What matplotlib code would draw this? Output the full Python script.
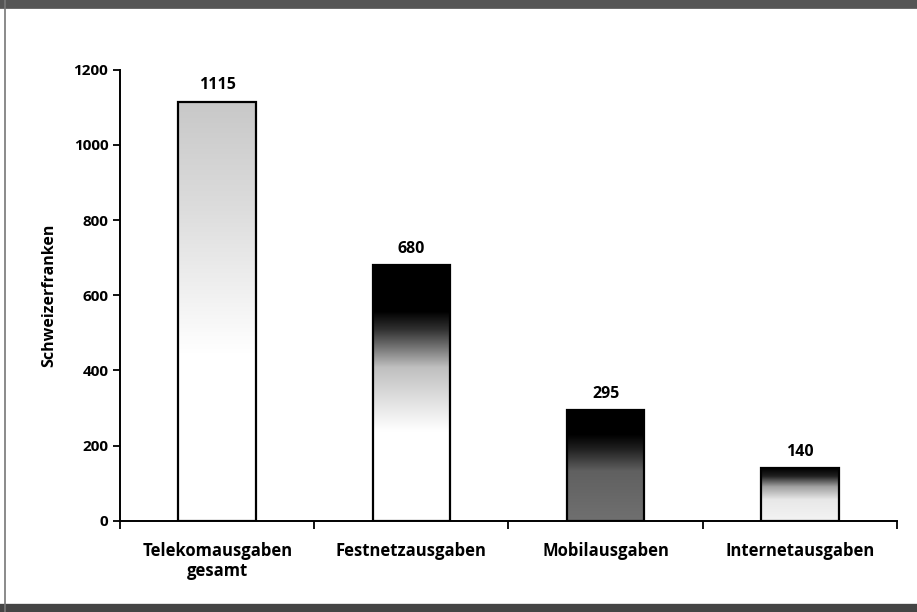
"""Telekomausgaben pro Haushalt - Balkendiagramm mit Verlaufsfuellung."""
import numpy as np
import matplotlib.pyplot as plt
from matplotlib.colors import LinearSegmentedColormap
from matplotlib.lines import Line2D

categories = ['Telekomausgaben\ngesamt', 'Festnetzausgaben', 'Mobilausgaben', 'Internetausgaben']
values = [1115, 680, 295, 140]
ylabel = 'Schweizerfranken'

# gradient stops per bar, bottom -> top (grey levels)
gradients = [
    [(0.0, '#ffffff'), (0.4, '#ffffff'), (0.75, '#dcdcdc'), (1.0, '#c8c8c8')],
    [(0.0, '#ffffff'), (0.35, '#ffffff'), (0.6, '#c0c0c0'), (0.75, '#303030'), (0.82, '#000000'), (1.0, '#000000')],
    [(0.0, '#707070'), (0.45, '#606060'), (0.65, '#202020'), (0.78, '#000000'), (1.0, '#000000')],
    [(0.0, '#f4f4f4'), (0.4, '#e8e8e8'), (0.65, '#a0a0a0'), (0.85, '#202020'), (1.0, '#000000')],
]

plt.rcParams['font.family'] = ['Open Sans', 'DejaVu Sans']

fig = plt.figure(figsize=(9.17, 6.12), dpi=100)
ax = fig.add_axes([0.131, 0.149, 0.847, 0.737])

x = np.arange(len(categories))
bars = ax.bar(x, values, width=0.4, color='none', edgecolor='black', linewidth=1.6, zorder=3)

ramp = np.linspace(0, 1, 256).reshape(-1, 1)
for bar, stops in zip(bars, gradients):
    cmap = LinearSegmentedColormap.from_list('g', stops)
    x0, w, h = bar.get_x(), bar.get_width(), bar.get_height()
    im = ax.imshow(ramp, cmap=cmap, origin='lower', aspect='auto',
                   extent=(x0, x0 + w, 0, h), zorder=2, interpolation='bilinear')
    im.set_clip_path(bar)
    ax.text(x0 + w / 2, h + 22, str(h), ha='center', va='bottom',
            fontsize=11.5, fontweight='bold')

ax.set_xlim(-0.5, len(categories) - 0.5)
ax.set_ylim(0, 1200)
ax.set_yticks(range(0, 1201, 200))
ax.set_xticks(np.arange(-0.5, len(categories), 1.0))
ax.set_xticklabels([])
ax.set_xticks(x, minor=True)
ax.set_xticklabels(categories, minor=True, fontsize=12, fontweight='bold', linespacing=1.15)
ax.tick_params(axis='x', which='minor', length=0, pad=15)
ax.tick_params(axis='x', which='major', direction='out', length=6, width=1.3)
ax.tick_params(axis='y', direction='out', length=5, width=1.3, labelsize=11)
for lbl in ax.get_yticklabels():
    lbl.set_fontweight('bold')
ax.set_ylabel(ylabel, fontsize=11.5, fontweight='bold', labelpad=12)

for s in ['top', 'right']:
    ax.spines[s].set_visible(False)
for s in ['left', 'bottom']:
    ax.spines[s].set_linewidth(1.4)

# scanned page frame
fig.add_artist(Line2D([0, 1], [0.993, 0.993], color='#555555', lw=7, transform=fig.transFigure))
fig.add_artist(Line2D([0, 1], [0.007, 0.007], color='#444444', lw=6, transform=fig.transFigure))
fig.add_artist(Line2D([0.005, 0.005], [0, 1], color='#777777', lw=1.2, transform=fig.transFigure))

fig.savefig('out.png', dpi=100)
